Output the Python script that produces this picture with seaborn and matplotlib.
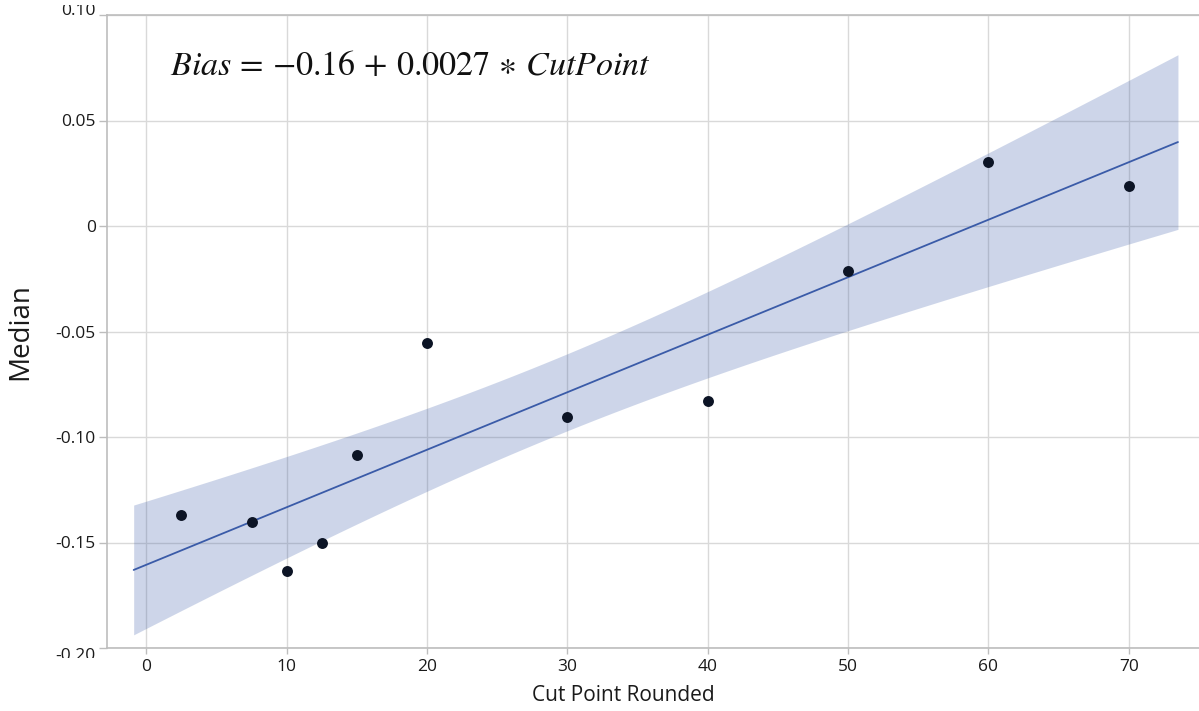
import numpy as np
import pandas as pd
import matplotlib
matplotlib.use("Agg")
import matplotlib.pyplot as plt
from matplotlib.transforms import Bbox, TransformedBbox
import seaborn as sns

# Median bias per rounded cut point
cut_points = [2.5, 7.5, 10, 12.5, 15, 20, 30, 40, 50, 60, 70]
medians = [-0.1368, -0.1405, -0.1633, -0.1500, -0.1087, -0.0556,
           -0.0907, -0.0831, -0.0214, 0.0304, 0.0190]

x_ticks = [0, 10, 20, 30, 40, 50, 60, 70]
y_ticks = [-0.20, -0.15, -0.10, -0.05, 0.0, 0.05, 0.10]
y_tick_labels = ["-0.20", "-0.15", "-0.10", "-0.05", "0", "0.05", "0.10"]

# range over which the fit and its band are shown
fit_range = (-0.9, 73.5)
T_975_DF9 = 2.2622  # Student t quantile, 95% two-sided, 9 d.o.f.

df = pd.DataFrame({"Cut Point Rounded": cut_points, "Median": medians})

sns.set_theme(style="white")
plt.rcParams["font.family"] = ["Open Sans", "DejaVu Sans"]
plt.rcParams["mathtext.fontset"] = "stix"

fig = plt.figure(figsize=(11.99, 7.11), dpi=100)
ax = fig.add_axes([107 / 1199, 63 / 711, 1092 / 1199, 633 / 711])

line_color = "#3A5BA8"
grid_color = "#D9D9D9"
spine_color = "#BDBDBD"

# least-squares fit with a t-based confidence band for the mean
x = np.asarray(cut_points, float)
y = np.asarray(medians, float)
slope, intercept = np.polyfit(x, y, 1)
resid = y - (intercept + slope * x)
s = np.sqrt(np.sum(resid ** 2) / (len(x) - 2))
sxx = np.sum((x - x.mean()) ** 2)
xg = np.linspace(fit_range[0], fit_range[1], 200)
yg = intercept + slope * xg
half = T_975_DF9 * s * np.sqrt(1 / len(x) + (xg - x.mean()) ** 2 / sxx)
ax.fill_between(xg, yg - half, yg + half, color=line_color, alpha=0.25,
                lw=0, zorder=2)

ax.set_xlim(*fit_range)
sns.regplot(
    data=df, x="Cut Point Rounded", y="Median", ax=ax,
    truncate=False, ci=None,
    color=line_color,
    scatter_kws=dict(s=62, color="#0C1425", alpha=1, linewidths=0, zorder=4),
    line_kws=dict(lw=1.3, color=line_color, zorder=3),
)

ax.set_xlim(-2.8, 75)
ax.set_ylim(-0.20, 0.10)
ax.set_xticks(x_ticks)
ax.set_xticklabels([str(v) for v in x_ticks])
ax.set_yticks(y_ticks)
ax.set_yticklabels(y_tick_labels)

ax.grid(True, color=grid_color, lw=1)
ax.set_axisbelow(True)
for side in ["left", "bottom", "top"]:
    ax.spines[side].set_visible(True)
    ax.spines[side].set_color(spine_color)
    ax.spines[side].set_linewidth(1.2)
ax.spines["right"].set_visible(False)

ax.tick_params(axis="y", which="major", left=True, length=6, width=1,
               color=spine_color, labelsize=12.5, labelcolor="#1A1A1A", pad=2)
ax.tick_params(axis="x", which="major", bottom=True, length=4, width=1,
               color=spine_color, labelsize=12.5, labelcolor="#1A1A1A", pad=4)

ax.set_xlabel("Cut Point Rounded", fontsize=15, color="#1A1A1A")
ax.xaxis.set_label_coords(0.473, -0.058)
ax.set_ylabel("Median", fontsize=20, color="#1A1A1A")
ax.yaxis.set_label_coords(-0.067, 0.5)

# end labels sit outside the frame and are partly cut off
yt = ax.yaxis.get_major_ticks()
yt[0].label1.set_va("top")
yt[0].label1.set_clip_box(TransformedBbox(Bbox([[0, 53 / 711], [1, 1]]), fig.transFigure))
yt[0].label1.set_clip_on(True)
yt[-1].label1.set_va("baseline")
yt[-1].label1.set_clip_box(TransformedBbox(Bbox([[0, 0], [1, 1 - 5 / 711]]), fig.transFigure))
yt[-1].label1.set_clip_on(True)

ax.text(170 / 1199, 1 - 66 / 711,
        r"$Bias\,=\,{-}0.16\,+\,0.0027\,\ast\,CutPoint$",
        transform=fig.transFigure, fontsize=24.5, color="#111111",
        ha="left", va="center")

fig.savefig("out.png", dpi=100)
